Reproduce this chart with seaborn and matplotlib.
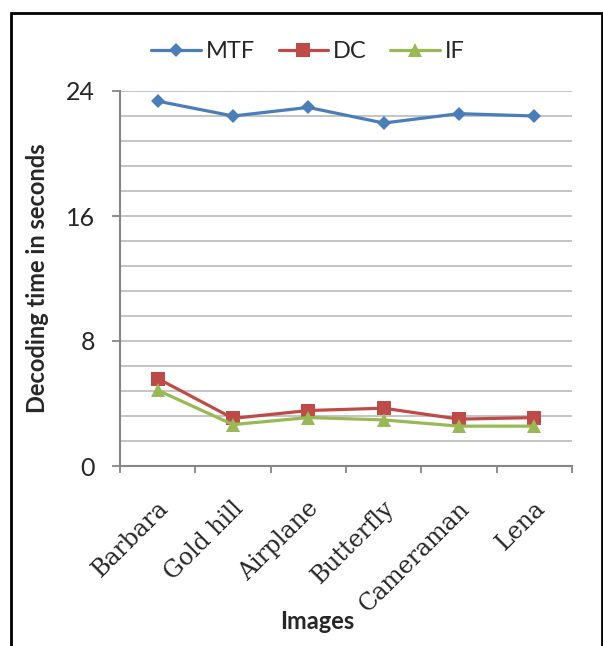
import matplotlib
matplotlib.use("Agg")
import matplotlib.pyplot as plt
import matplotlib.transforms as mtransforms
from matplotlib.ticker import MultipleLocator, FixedLocator
from matplotlib.patches import Rectangle
from matplotlib.lines import Line2D
import seaborn as sns
import pandas as pd

images = ["Barbara", "Gold hill", "Airplane", "Butterfly", "Cameraman", "Lena"]
mtf = [23.35, 22.4, 22.95, 21.95, 22.55, 22.4]
dc = [5.6, 3.05, 3.55, 3.7, 3.0, 3.1]
iff = [4.85, 2.65, 3.1, 2.95, 2.55, 2.55]
series = ["MTF", "DC", "IF"]
yticks = [0, 8, 16, 24]

df = pd.DataFrame({
    "Images": images * 3,
    "time": mtf + dc + iff,
    "method": [s for s in series for _ in images],
})

sns.set_theme(style="white")
plt.rcParams["font.family"] = ["Lato", "DejaVu Sans"]

fig = plt.figure(figsize=(6.03, 6.46), dpi=100)
ax = fig.add_axes([120/603, 1-466/646, 452/603, 375/646])

palette = {"MTF": "#4A7EBB", "DC": "#BE4B48", "IF": "#98B954"}
markers = {"MTF": "D", "DC": "s", "IF": "^"}
sizes_ms = {"MTF": 7.0, "DC": 10, "IF": 10.5}

sns.lineplot(data=df, x="Images", y="time", hue="method", style="method",
             markers=markers, dashes=False, palette=palette, sort=False,
             linewidth=2.3, markeredgewidth=0, ax=ax, legend=False)
for line, s in zip(ax.get_lines(), series):
    line.set_markersize(sizes_ms[s])

ax.set_xlim(-0.5, len(images) - 0.5)
ax.set_ylim(0, 24)
ax.yaxis.set_major_locator(FixedLocator(yticks))
ax.yaxis.set_minor_locator(MultipleLocator(1.6))
ax.grid(True, which="both", axis="y", color="#BFBFBF", linewidth=1.3)
ax.grid(False, axis="x")
ax.set_axisbelow(True)

for sp in ["top", "right"]:
    ax.spines[sp].set_visible(False)
for sp in ["left", "bottom"]:
    ax.spines[sp].set_color("#868686")
    ax.spines[sp].set_linewidth(1.5)

ax.tick_params(axis="y", which="major", length=6, width=1.3, color="#868686",
               direction="out", left=True, pad=12, labelsize=18)
ax.tick_params(axis="y", which="minor", length=0)
ax.set_xticks(range(len(images)))
ax.set_xticks([i - 0.5 for i in range(len(images) + 1)], minor=True)
ax.tick_params(axis="x", which="minor", length=5, width=1.3, color="#868686",
               direction="out", bottom=True)
ax.tick_params(axis="x", which="major", length=0, pad=28)
ax.set_xticklabels(images, rotation=45, ha="right", va="center",
                   rotation_mode="anchor", family=["DejaVu Serif"], fontsize=17)
offset = mtransforms.ScaledTranslation(7/100, 0, fig.dpi_scale_trans)
for lab in ax.get_xticklabels():
    lab.set_transform(lab.get_transform() + offset)

ax.set_ylabel("Decoding time in seconds", fontweight="bold", fontsize=17)
ax.yaxis.set_label_coords(-0.158, 0.5)
ax.set_xlabel("Images", fontweight="bold", fontsize=17)
ax.xaxis.set_label_coords(0.436, -0.385)

handles = [Line2D([0], [0], color=palette[s], marker=markers[s], lw=2.3,
                  markersize=sizes_ms[s], markeredgewidth=0) for s in series]
fig.legend(handles, series, loc="center", bbox_to_anchor=(308/603, 1-52/646),
           ncol=3, frameon=False, fontsize=17, handlelength=2.1,
           handletextpad=0.2, columnspacing=1.0)

fig.patches.append(Rectangle((11/603, -0.05), 591/603, 1.05 - 13/646,
                             transform=fig.transFigure, fill=False,
                             edgecolor="black", linewidth=2.0))

fig.savefig("out.png", dpi=100)
